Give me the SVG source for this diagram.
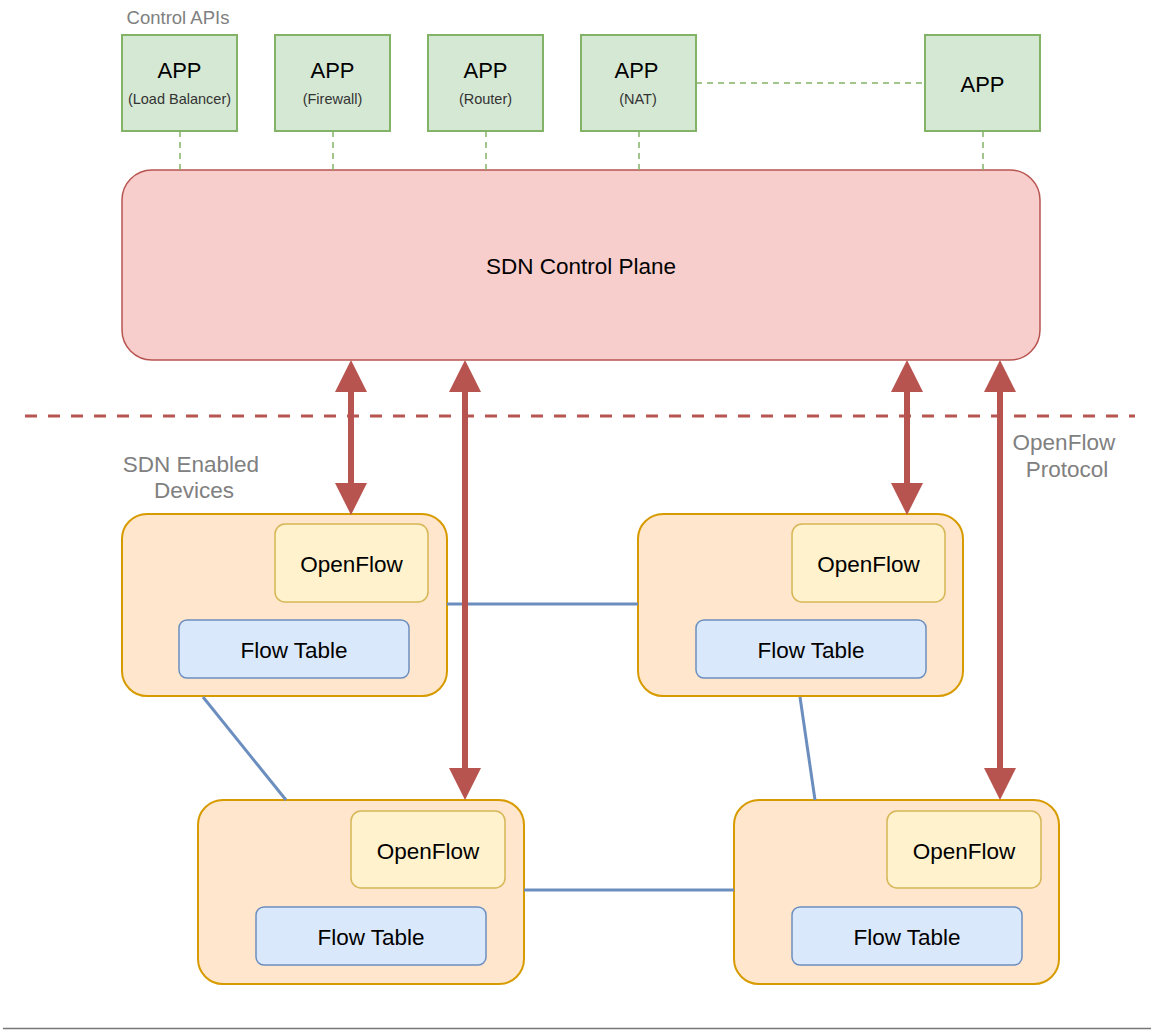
<svg xmlns="http://www.w3.org/2000/svg" width="1151" height="1030" viewBox="0 0 1151 1030">
  <style>
    text { font-family: "Liberation Sans", Arial, sans-serif; }
    .app { fill: #d5e8d4; stroke: #82b366; stroke-width: 2; }
    .app-title { font-size: 22px; fill: #000; text-anchor: middle; }
    .app-sub { font-size: 14.5px; fill: #333; text-anchor: middle; }
    .api-link { stroke: #82b366; stroke-width: 1.5; stroke-dasharray: 6 5; fill: none; }
    .plane { fill: #f8cecc; stroke: #b85450; stroke-width: 1.5; }
    .device { fill: #ffe6cc; stroke: #d79b00; stroke-width: 2; }
    .of { fill: #fff2cc; stroke: #d6b656; stroke-width: 1.5; }
    .ft { fill: #dae8fc; stroke: #6c8ebf; stroke-width: 1.5; }
    .box-label { font-size: 22.5px; fill: #000; text-anchor: middle; }
    .note { fill: #808080; text-anchor: middle; }
    .link { stroke: #6c8ebf; stroke-width: 3; fill: none; }
    .ofp { stroke: #b85450; stroke-width: 6; fill: none; }
    .ofp-head { fill: #b85450; }
  </style>

  <!-- application layer label -->
  <text x="178" y="24" class="note" font-size="18.5">Control APIs</text>

  <!-- applications -->
  <g id="app-load-balancer">
    <rect class="app" x="122" y="35" width="115" height="96"/>
    <text class="app-title" x="179.5" y="78">APP</text>
    <text class="app-sub" x="179.5" y="104">(Load Balancer)</text>
  </g>
  <g id="app-firewall">
    <rect class="app" x="275" y="35" width="115" height="96"/>
    <text class="app-title" x="332.5" y="78">APP</text>
    <text class="app-sub" x="332.5" y="104">(Firewall)</text>
  </g>
  <g id="app-router">
    <rect class="app" x="428" y="35" width="115" height="96"/>
    <text class="app-title" x="485.5" y="78">APP</text>
    <text class="app-sub" x="485.5" y="104">(Router)</text>
  </g>
  <g id="app-nat">
    <rect class="app" x="581" y="35" width="115" height="96"/>
    <text class="app-title" x="636.5" y="78">APP</text>
    <text class="app-sub" x="638" y="104">(NAT)</text>
  </g>
  <g id="app-other">
    <rect class="app" x="925" y="35" width="115" height="96"/>
    <text class="app-title" x="982.5" y="92">APP</text>
  </g>

  <!-- control plane -->
  <g id="sdn-control-plane">
    <rect class="plane" x="122" y="170" width="918" height="190" rx="30" ry="30"/>
    <text class="box-label" x="581" y="274">SDN Control Plane</text>
  </g>

  <!-- boundary between control and data plane -->
  <line x1="25" y1="416" x2="1135" y2="416" stroke="#b85450" stroke-width="3" stroke-dasharray="12 11"/>

  <text class="note" font-size="22.5">
    <tspan x="194" y="472">SDN Enabled</tspan>
    <tspan x="194" y="498">Devices</tspan>
  </text>
  <text class="note" font-size="22.5">
    <tspan x="1067" y="450">OpenFlow</tspan>
    <tspan x="1067" y="477">Protocol</tspan>
  </text>

  <!-- switches -->
  <g id="device-1">
    <rect class="device" x="122" y="514" width="325" height="182" rx="25" ry="25"/>
    <rect class="of" x="275" y="524" width="153" height="78" rx="10" ry="10"/>
    <text class="box-label" x="351.5" y="572">OpenFlow</text>
    <rect class="ft" x="179" y="620" width="230" height="58" rx="8" ry="8"/>
    <text class="box-label" x="294" y="658">Flow Table</text>
  </g>
  <g id="device-2">
    <rect class="device" x="638" y="514" width="325" height="182" rx="25" ry="25"/>
    <rect class="of" x="792" y="524" width="153" height="78" rx="10" ry="10"/>
    <text class="box-label" x="868.5" y="572">OpenFlow</text>
    <rect class="ft" x="696" y="620" width="230" height="58" rx="8" ry="8"/>
    <text class="box-label" x="811" y="658">Flow Table</text>
  </g>
  <g id="device-3">
    <rect class="device" x="198" y="800" width="326" height="184" rx="25" ry="25"/>
    <rect class="of" x="351" y="811" width="154" height="77" rx="10" ry="10"/>
    <text class="box-label" x="428" y="859">OpenFlow</text>
    <rect class="ft" x="256" y="907" width="230" height="58" rx="8" ry="8"/>
    <text class="box-label" x="371" y="945">Flow Table</text>
  </g>
  <g id="device-4">
    <rect class="device" x="734" y="800" width="325" height="184" rx="25" ry="25"/>
    <rect class="of" x="887" y="811" width="154" height="77" rx="10" ry="10"/>
    <text class="box-label" x="964" y="859">OpenFlow</text>
    <rect class="ft" x="792" y="907" width="230" height="58" rx="8" ry="8"/>
    <text class="box-label" x="907" y="945">Flow Table</text>
  </g>

  <!-- connectors -->
  <g id="connectors">
    <!-- app to controller (northbound) -->
    <line class="api-link" x1="696" y1="83" x2="925" y2="83"/>
    <line class="api-link" x1="180" y1="131" x2="180" y2="170"/>
    <line class="api-link" x1="333" y1="131" x2="333" y2="170"/>
    <line class="api-link" x1="486" y1="131" x2="486" y2="170"/>
    <line class="api-link" x1="639" y1="131" x2="639" y2="170"/>
    <line class="api-link" x1="983" y1="131" x2="983" y2="170"/>

    <!-- links between switches -->
    <line class="link" x1="447" y1="604" x2="638" y2="604"/>
    <line class="link" x1="524" y1="890" x2="734" y2="890"/>
    <line class="link" x1="203" y1="697" x2="286" y2="800"/>
    <line class="link" x1="800" y1="697" x2="815" y2="800"/>

    <!-- OpenFlow channels (southbound) -->
    <line class="ofp" x1="351" y1="388" x2="351" y2="487"/>
    <polygon class="ofp-head" points="351,360 367,392 335,392"/>
    <polygon class="ofp-head" points="351,515 367,483 335,483"/>

    <line class="ofp" x1="465" y1="388" x2="465" y2="772"/>
    <polygon class="ofp-head" points="465,360 481,392 449,392"/>
    <polygon class="ofp-head" points="465,800 481,768 449,768"/>

    <line class="ofp" x1="907" y1="388" x2="907" y2="487"/>
    <polygon class="ofp-head" points="907,360 923,392 891,392"/>
    <polygon class="ofp-head" points="907,515 923,483 891,483"/>

    <line class="ofp" x1="1000" y1="388" x2="1000" y2="772"/>
    <polygon class="ofp-head" points="1000,360 1016,392 984,392"/>
    <polygon class="ofp-head" points="1000,800 1016,768 984,768"/>
  </g>

  <!-- bottom rule -->
  <line x1="3" y1="1028.5" x2="1151" y2="1028.5" stroke="#777" stroke-width="1.5"/>
</svg>
